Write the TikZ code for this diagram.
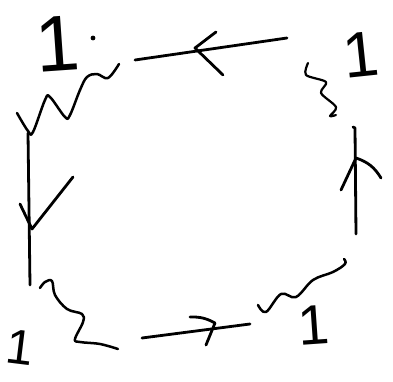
\documentclass[tikz,border=0pt]{standalone}
\usepackage{fontspec}
\setmainfont{Liberation Sans}
\tikzset{
  pen/.style={line width=2.8pt,line cap=round,line join=round},
  wiggle/.style={pen,line width=2.5pt},
  one/.style={inner sep=0pt,anchor=center}
}
\begin{document}
\begin{tikzpicture}[x=1pt,y=-1pt]
    \useasboundingbox (0,0) rectangle (393,382);
    % corner labels
    \node[one,font=\fontsize{79}{79}\selectfont,rotate=4] (tl) at (58,44) {1};
    \node[one,font=\fontsize{64}{64}\selectfont,rotate=6] (tr) at (361,55) {1};
    \node[one,font=\fontsize{56}{56}\selectfont,rotate=4] (br) at (314,325) {1};
    \node[one,font=\fontsize{49}{49}\selectfont,rotate=-7] (bl) at (20,347) {1};
    \fill (93,38) circle (2.4pt);
    % top line, arrow to the left
    \coordinate (t1) at (287,38);
    \coordinate (t2) at (135,60);
    \draw[pen] (t1) -- (t2);
    \draw[pen] (216,32) -- (195,48) -- (223,75);
    % left line, arrow down
    \coordinate (l1) at (28,133);
    \coordinate (l2) at (30,285);
    \draw[pen] (l1) -- (l2);
    \draw[pen] (73,177) -- (32,229) -- (20,204);
    % bottom line, arrow to the right
    \coordinate (b1) at (142,338);
    \coordinate (b2) at (250,324);
    \draw[pen] (b1) -- (b2);
    \draw[pen] (190,317) to[bend left=15] (215,323) -- (206,345);
    % right line, arrow up
    \coordinate (r1) at (356,234);
    \coordinate (r2) at (355,128);
    \draw[pen] (r1) -- (r2) -- (353,127);
    \draw[pen] (341,190) -- (356,158) to[bend left=20] (381,178);
    % wavy lines
    \draw[wiggle] plot[smooth,tension=0.6] coordinates {(119,64) (108,78) (97,74) (87,77) (80,90) (70,115) (65,117) (50,97) (45,100) (33,132) (28,131) (17,113)};
    \draw[wiggle] plot[smooth,tension=0.6] coordinates {(40,288) (45,282) (52,281) (55,295) (67,309) (82,314) (83,322) (75,339) (80,342) (100,344) (118,349)};
    \draw[wiggle] plot[smooth,tension=0.6] coordinates {(258,305) (266,312) (281,294) (296,297) (313,280) (333,272) (345,264) (344,259)};
    \draw[wiggle,line width=2.2pt] plot[smooth,tension=0.5] coordinates {(308,63) (306,75) (326,82) (321,93) (336,107) (330,116) (336,115)};
\end{tikzpicture}
\end{document}
